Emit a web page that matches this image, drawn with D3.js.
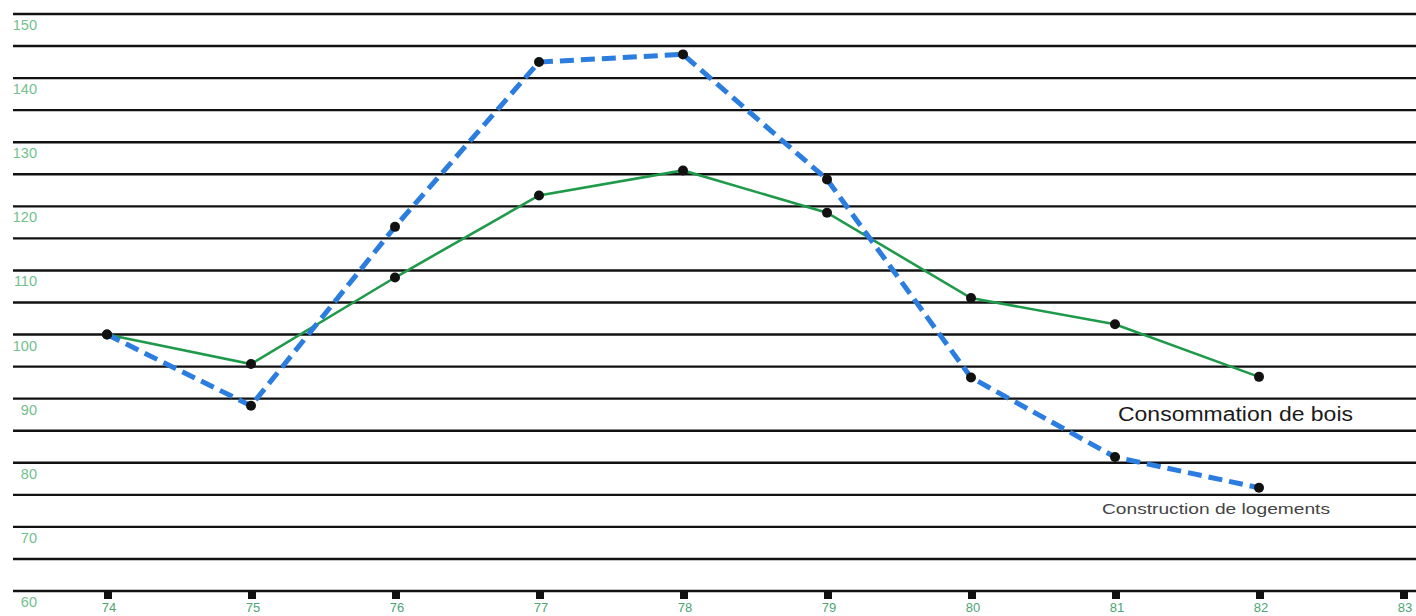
<!DOCTYPE html>
<html><head><meta charset="utf-8">
<script src="https://cdn.jsdelivr.net/npm/d3@7"></script>
<style>html,body{margin:0;padding:0;background:#fff;}svg{display:block;}</style>
</head><body>
<svg id="c" width="1416" height="616"></svg>
<script>
const years = [74, 75, 76, 77, 78, 79, 80, 81, 82];
const xTickLabels = [74, 75, 76, 77, 78, 79, 80, 81, 82, 83];
const consommationBois = [100, 95.4, 108.9, 121.7, 125.6, 119.0, 105.7, 101.6, 93.4];
const constructionLogements = [100, 88.9, 116.8, 142.5, 143.7, 124.2, 93.3, 80.9, 76.1];
const yTickLabels = [60, 70, 80, 90, 100, 110, 120, 130, 140, 150];
const gridValues = d3.range(60, 151, 5);
const labelBois = "Consommation de bois";
const labelLogements = "Construction de logements";

const svg = d3.select("#c");
const x = d3.scaleLinear().domain([74, 83]).range([107, 1403]);
const y = d3.scaleLinear().domain([60, 150]).range([591, 14]);

// grid lines
svg.append("g").selectAll("line").data(gridValues).join("line")
  .attr("x1", 13).attr("x2", 1416)
  .attr("y1", d => y(d)).attr("y2", d => y(d))
  .attr("stroke", "#111").attr("stroke-width", 2.4);

// y labels
svg.append("g").selectAll("text").data(yTickLabels).join("text")
  .attr("x", 37).attr("y", d => y(d) + 16)
  .attr("text-anchor", "end")
  .attr("font-family", "Liberation Sans, Arial, sans-serif")
  .attr("font-size", 14.5).attr("fill", "#72c08e")
  .text(d => d);

// x ticks
svg.append("g").selectAll("rect").data(xTickLabels).join("rect")
  .attr("x", d => x(d) - 3).attr("y", y(60))
  .attr("width", 8).attr("height", 8).attr("fill", "#111");
svg.append("g").selectAll("text").data(xTickLabels).join("text")
  .attr("x", d => x(d) + 2).attr("y", 612)
  .attr("text-anchor", "middle")
  .attr("font-family", "Liberation Sans, Arial, sans-serif")
  .attr("font-size", 13).attr("fill", "#4da572")
  .text(d => d);

const line = d3.line().x(d => x(d[0])).y(d => y(d[1]));
const boisData = years.map((yr, i) => [yr, consommationBois[i]]);
const logData = years.map((yr, i) => [yr, constructionLogements[i]]);

svg.append("path").datum(boisData).attr("d", line)
  .attr("fill", "none").attr("stroke", "#1f9a4a").attr("stroke-width", 2.6);
svg.append("path").datum(logData).attr("d", line)
  .attr("fill", "none").attr("stroke", "#2b7de0").attr("stroke-width", 5)
  .attr("stroke-dasharray", "14,7");

svg.append("g").selectAll("circle").data(boisData.concat(logData)).join("circle")
  .attr("cx", d => x(d[0])).attr("cy", d => y(d[1])).attr("r", 5)
  .attr("fill", "#111");

svg.append("text").attr("x", 1118).attr("y", 421)
  .attr("font-family", "Liberation Sans, Arial, sans-serif")
  .attr("font-size", 20).attr("fill", "#1a1a1a")
  .attr("textLength", 235).attr("lengthAdjust", "spacingAndGlyphs")
  .text(labelBois);
svg.append("text").attr("x", 1102).attr("y", 514)
  .attr("font-family", "Liberation Sans, Arial, sans-serif")
  .attr("font-size", 15).attr("fill", "#444")
  .attr("textLength", 228).attr("lengthAdjust", "spacingAndGlyphs")
  .text(labelLogements);
</script>
</body></html>
